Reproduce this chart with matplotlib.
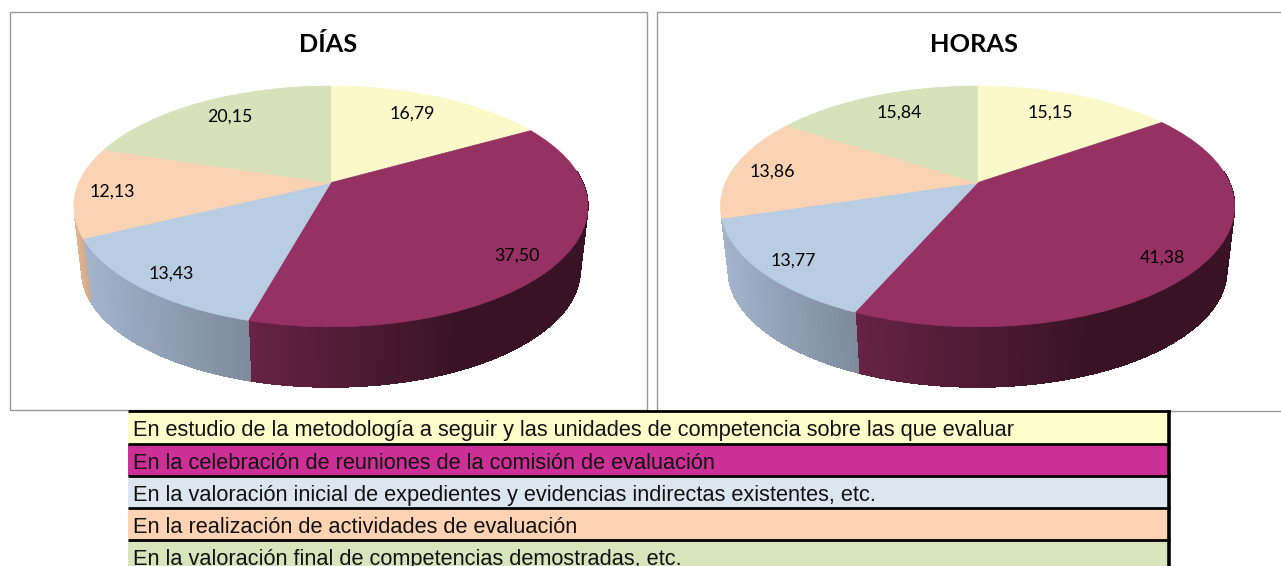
"""Two tilted pie charts (DIAS / HORAS) with a coloured table legend underneath."""
import numpy as np
import matplotlib
matplotlib.use("Agg")
import matplotlib.pyplot as plt
from matplotlib.collections import PolyCollection
from matplotlib.colors import to_rgb
from matplotlib.patches import Rectangle
from matplotlib.transforms import Transform

# ---------- data ----------
titles = ["DÍAS", "HORAS"]
dias = [16.79, 37.50, 13.43, 12.13, 20.15]
horas = [15.15, 41.38, 13.77, 13.86, 15.84]
legend_labels = [
    "En estudio de la metodología a seguir y las unidades de competencia sobre las que evaluar",
    "En la celebración de reuniones de la comisión de evaluación",
    "En la valoración inicial de expedientes y evidencias indirectas existentes, etc.",
    "En la realización de actividades de evaluación",
    "En la valoración final de competencias demostradas, etc.",
]

# ---------- styles ----------
top_colors = ["#FBF9C9", "#953163", "#B8CCE2", "#FAD3B4", "#D7E1BA"]
legend_colors = ["#FFFFCC", "#CC3096", "#DCE6F1", "#FDD3B4", "#D8E4BC"]
wall_left = ["#FBF9C9", "#672345", "#A2B3CB", "#DDB392", "#D7E1BA"]
wall_right = ["#FBF9C9", "#391325", "#7E8B9C", "#D2A98A", "#D7E1BA"]
wall_sat = [1, 0.62, 1, 1, 1]  # maroon side reaches its darkest part way along

# pixel layout of each pie: centre x, radius x, label centres
PIES = [
    dict(cx=330.8, rx=252, box=(10, 11.5, 647, 410),
         title_xy=(328, 44.5),
         label_xy=[(412, 114), (517, 256), (171, 274), (112, 192), (229.5, 117)]),
    dict(cx=977.5, rx=252, box=(657, 11.5, 1290, 411),
         title_xy=(974, 44),
         label_xy=[(1050, 113), (1162, 258), (793, 261), (772, 172), (899, 113)]),
]
CY, RY, TILT, DEPTH, BOTTOM_SCALE = 182.7, 115.7, 0.197, 64.5, 0.97
LEG_X0, LEG_X1 = 127.5, 1168
LEG_LINES = [411, 443.5, 476, 507.5, 540, 572]


class DiscView(Transform):
    """Unit disc -> pixels, seen in perspective (far side shrinks)."""
    input_dims = output_dims = 2
    is_affine = False
    has_inverse = False

    def __init__(self, cx, rx, scale=1.0, dy=0.0):
        super().__init__()
        self.cx, self.rx, self.scale, self.dy = cx, rx, scale, dy

    def transform_non_affine(self, values):
        values = np.asarray(values, dtype=float)
        u, v = values[:, 0], values[:, 1]
        den = 1 + TILT * v
        return np.column_stack([self.cx + self.scale * self.rx * u / den,
                                CY + self.dy - self.scale * RY * v / den])


plt.rcParams["font.family"] = ["Lato", "DejaVu Sans"]
fig = plt.figure(figsize=(12.81, 5.66), dpi=100)
ax = fig.add_axes([0, 0, 1, 1])

# ----- pies -----
for values, title, p in zip([dias, horas], titles, PIES):
    x0, y0, x1, y1 = p["box"]
    ax.add_patch(Rectangle((x0, y0), x1 - x0, y1 - y0, fc="white", ec="#9A9A9A", lw=1.0, zorder=1))

    top = DiscView(p["cx"], p["rx"])
    low = DiscView(p["cx"], p["rx"], BOTTOM_SCALE, DEPTH)

    # side wall, slice by slice
    edges = np.concatenate([[0], np.cumsum(values)]) / np.sum(values) * 2 * np.pi
    for i in range(len(values)):
        th = np.arange(edges[i], edges[i + 1] + 0.01, np.radians(1.0))
        th = np.append(th[th < edges[i + 1]], edges[i + 1])
        ring = np.column_stack([np.sin(th), np.cos(th)])
        th_vis = (ring[:, 1] < 0.1) & ((ring[:, 0] > 0) | (ring[:, 1] < -0.28))
        if th_vis.sum() < 2:
            continue
        up = top.transform_non_affine(ring)
        dn = low.transform_non_affine(ring)
        xs = up[th_vis, 0]
        polys, cols = [], []
        c0, c1 = np.array(to_rgb(wall_left[i])), np.array(to_rgb(wall_right[i]))
        for j in range(len(th) - 1):
            if not (th_vis[j] and th_vis[j + 1]):
                continue
            polys.append([up[j], up[j + 1], dn[j + 1], dn[j]])
            t = (up[j, 0] - xs.min()) / (xs.max() - xs.min()) / wall_sat[i]
            cols.append(c0 + (c1 - c0) * min(t, 1))
        ax.add_collection(PolyCollection(polys, facecolors=cols, edgecolors=cols,
                                         linewidths=0.5, antialiaseds=False, zorder=2))

    # top face
    wedges, _ = ax.pie(values, colors=top_colors, startangle=90, counterclock=False,
                       wedgeprops=dict(linewidth=0.5))
    for w in wedges:
        w.set_edgecolor(w.get_facecolor())
        w.set_transform(top + ax.transData)
        w.set_zorder(3)

    ax.text(*p["title_xy"], title, ha="center", va="center", fontsize=18.3,
            fontweight="bold", color="black", zorder=5)
    for v, (lx, ly) in zip(values, p["label_xy"]):
        ax.text(lx, ly, f"{v:.2f}".replace(".", ","), ha="center", va="center",
                fontsize=12.8, color="black", zorder=5)

# pie() resets these, so the pixel frame goes last
ax.set_aspect("auto")
ax.set_xlim(0, 1281)
ax.set_ylim(566, 0)
ax.axis("off")

# ----- legend table -----
for i, (lab, col) in enumerate(zip(legend_labels, legend_colors)):
    y0, y1 = LEG_LINES[i], LEG_LINES[i + 1]
    ax.add_patch(Rectangle((LEG_X0, y0), LEG_X1 - LEG_X0, y1 - y0, fc=col, ec="none", zorder=6))
    ax.text(133, y0 + 25.2, lab, ha="left", va="baseline", fontsize=15.7,
            family="Liberation Sans", color="#111111", zorder=8)
ax.hlines(LEG_LINES[:-1], LEG_X0, LEG_X1 + 1.5, color="black", lw=2.0, zorder=7)
ax.vlines(LEG_X1 + 0.5, 410, 566, color="black", lw=2.6, zorder=7)

fig.savefig("out.png", dpi=100)
